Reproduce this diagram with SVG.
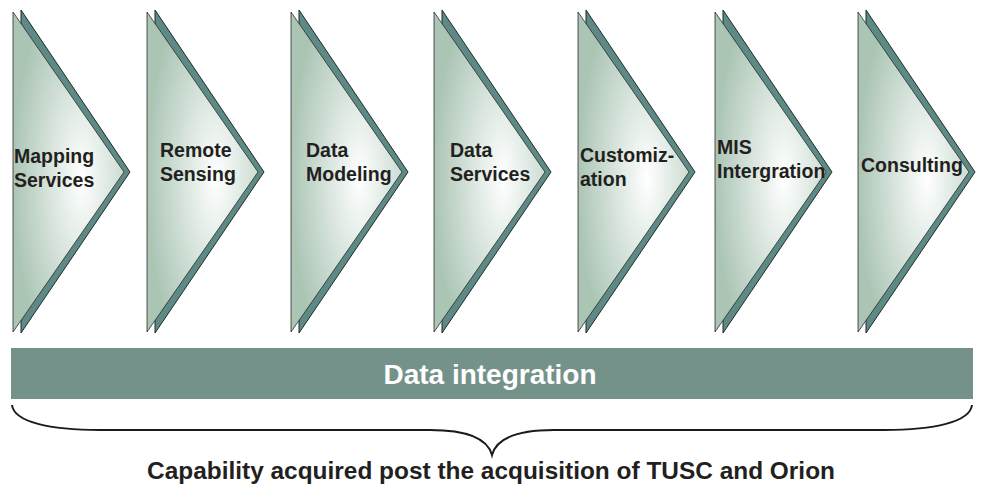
<svg xmlns="http://www.w3.org/2000/svg" xmlns:xlink="http://www.w3.org/1999/xlink" width="981" height="504" viewBox="0 0 981 504">
  <style>
    .back { fill: #5e8a86; stroke: #1f2a2a; stroke-width: 1; stroke-linejoin: miter; }
    .front { fill: url(#rg); stroke: #2b2b2b; stroke-width: 0.8; }
    .lbl { font-family: "Liberation Sans", Arial, sans-serif; font-weight: bold; font-size: 19.5px; fill: #231f20; }
    .bar { fill: #74928a; }
    .bartxt { font-family: "Liberation Sans", Arial, sans-serif; font-weight: bold; font-size: 28px; fill: #ffffff; }
    .title { font-family: "Liberation Sans", Arial, sans-serif; font-weight: bold; font-size: 24px; fill: #231f20; }
    .brace { fill: none; stroke: #1a1a1a; stroke-width: 2; }
  </style>
  <defs>
    <radialGradient id="rg" cx="0.62" cy="0.52" r="0.62" gradientUnits="objectBoundingBox">
      <stop offset="0" stop-color="#ffffff"/>
      <stop offset="0.3" stop-color="#e6eee9"/>
      <stop offset="1" stop-color="#abc5b5"/>
    </radialGradient>
    <g id="chev">
      <path class="back" d="M8,10 L117,172 L8,333 Z"/>
      <path class="front" d="M0,12 L111,172 L0,332 Z"/>
    </g>
  </defs>

  <g id="node-mapping" transform="translate(13,0)">
    <use xlink:href="#chev" href="#chev"/>
    <text class="lbl" x="1" y="163">Mapping</text>
    <text class="lbl" x="1" y="187">Services</text>
  </g>
  <g id="node-remote" transform="translate(147,0)">
    <use xlink:href="#chev" href="#chev"/>
    <text class="lbl" x="13" y="157">Remote</text>
    <text class="lbl" x="13" y="181">Sensing</text>
  </g>
  <g id="node-modeling" transform="translate(291,0)">
    <use xlink:href="#chev" href="#chev"/>
    <text class="lbl" x="15" y="157">Data</text>
    <text class="lbl" x="15" y="181">Modeling</text>
  </g>
  <g id="node-dataservices" transform="translate(434,0)">
    <use xlink:href="#chev" href="#chev"/>
    <text class="lbl" x="16" y="157">Data</text>
    <text class="lbl" x="16" y="181">Services</text>
  </g>
  <g id="node-custom" transform="translate(578,0)">
    <use xlink:href="#chev" href="#chev"/>
    <text class="lbl" x="2" y="162">Customiz-</text>
    <text class="lbl" x="2" y="186">ation</text>
  </g>
  <g id="node-mis" transform="translate(715,0)">
    <use xlink:href="#chev" href="#chev"/>
    <text class="lbl" x="2" y="154">MIS</text>
    <text class="lbl" x="2" y="178">Intergration</text>
  </g>
  <g id="node-consulting" transform="translate(858,0)">
    <use xlink:href="#chev" href="#chev"/>
    <text class="lbl" x="3" y="172">Consulting</text>
  </g>

  <g id="node-dataintegration">
    <rect class="bar" x="11" y="348" width="962" height="51"/>
    <text class="bartxt" x="490" y="384" text-anchor="middle">Data integration</text>
  </g>

  <g id="connectors">
    <path class="brace" d="M12,405 C14,422 50,430 100,430 L430,430 C470,430 488,440 492,455 C496,440 514,430 554,430 L884,430 C934,430 970,422 972,405"/>
  </g>

  <g id="caption">
    <text class="title" x="491" y="479" text-anchor="middle" textLength="688" lengthAdjust="spacingAndGlyphs">Capability acquired post the acquisition of TUSC and Orion</text>
  </g>
</svg>
